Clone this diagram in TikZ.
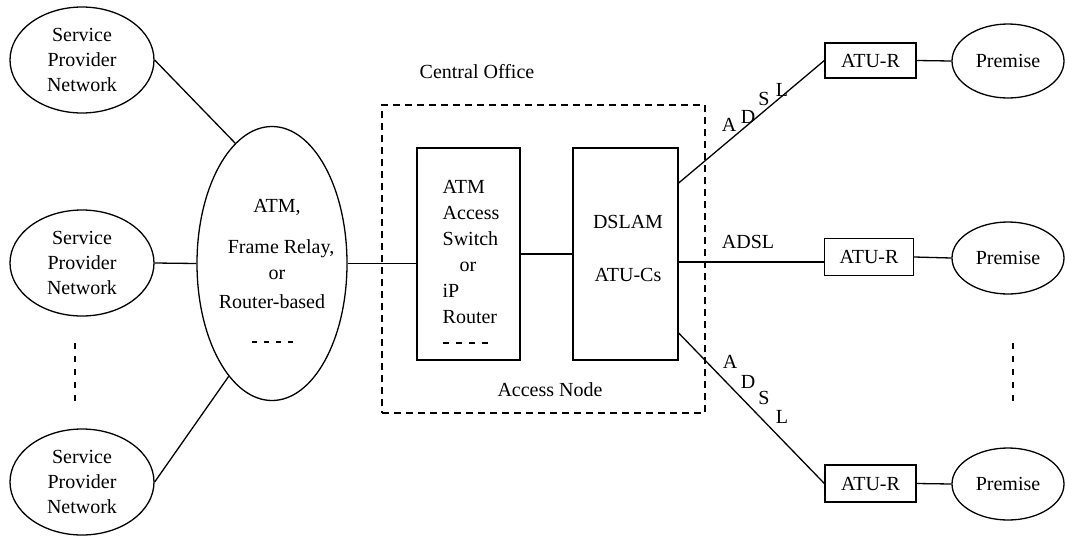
\documentclass[tikz,border=0pt]{standalone}
\usepackage{fontspec}
\setmainfont{Liberation Serif}
\usetikzlibrary{shapes.geometric}
\begin{document}
\begin{tikzpicture}[x=1pt,y=-1pt,
  every node/.style={inner sep=0pt, font=\fontsize{20}{25}\selectfont},
  wire/.style={line width=1.3pt},
  netoval/.style={ellipse, draw, line width=1.3pt, align=center},
  unitbox/.style={rectangle, draw, line width=1.3pt},
  dashline/.style={line width=1.1pt, dash pattern=on 6pt off 7pt},
  officebox/.style={rectangle, draw, line width=1.1pt, dash pattern=on 7pt off 5pt}
]
\useasboundingbox (0,0) rectangle (1065,536);

% service provider networks
\node[netoval, minimum width=144pt, minimum height=106pt] (spn1) at (82,60) {Service\\Provider\\Network};
\node[netoval, minimum width=144pt, minimum height=106pt] (spn2) at (82,263) {Service\\Provider\\Network};
\node[netoval, minimum width=144pt, minimum height=106pt] (spn3) at (82,482) {Service\\Provider\\Network};
\draw[dashline] (75,343) -- (75,405);

% backbone network
\node[netoval, minimum width=150pt, minimum height=274pt] (atm) at (272,263.5) {};
\node (atmt1) at (277,207) {ATM,};
\node (atmt2) at (281,249) {Frame Relay,};
\node (atmt3) at (277,275) {or};
\node (atmt4) at (272,302) {Router-based};
\draw[line width=1.1pt, dash pattern=on 5pt off 7pt] (252,342) -- (297,342);

% central office
\node[officebox, minimum width=323pt, minimum height=308pt] (co) at (543.5,259) {};
\node (colabel) at (477,72) {Central Office};
\node (anlabel) at (550,390) {Access Node};

\node[unitbox, minimum width=103pt, minimum height=212pt] (sw) at (468.5,254) {};
\node[align=left, font=\fontsize{20}{26}\selectfont] (swtext) at (471,252)
  {ATM\\Access\\Switch\\\hspace*{17pt}or\\iP\\Router};
\draw[dashline] (443,343) -- (490,343);

\node[unitbox, minimum width=105pt, minimum height=212pt] (dslam) at (625.5,254) {};
\node (dslamt1) at (628,222) {DSLAM};
\node (dslamt2) at (628,275) {ATU-Cs};

% remote units and premises
\node[unitbox, minimum width=91pt, minimum height=35pt] (atur1) at (870.5,60.5) {ATU-R};
\node[unitbox, minimum width=89pt, minimum height=37pt] (atur2) at (869,257) {ATU-R};
\node[unitbox, minimum width=91pt, minimum height=37pt] (atur3) at (870.5,483.5) {ATU-R};
\node[netoval, minimum width=112pt, minimum height=74pt] (prem1) at (1008,61) {Premise};
\node[netoval, minimum width=112pt, minimum height=72pt] (prem2) at (1008,258) {Premise};
\node[netoval, minimum width=112pt, minimum height=72pt] (prem3) at (1008,484) {Premise};
\draw[dashline] (1013,343) -- (1013,405);

% connections
\draw[wire] (spn1.east) -- (atm.107);
\draw[wire] (spn2.east) -- (atm.west);
\draw[wire] (spn3.east) -- (atm.249);
\draw[wire] (atm.east) -- (atm.east -| sw.west);
\draw[wire] (sw.east) -- (dslam.west);
\draw[wire] ([yshift=71pt]dslam.east) -- (atur1.west);
\draw[wire] ([yshift=-8pt]dslam.east) -- ([yshift=-8pt]dslam.east -| atur2.west);
\draw[wire] ([yshift=-79pt]dslam.east) -- (atur3.west);
\draw[wire] (atur1.east) -- (prem1.west);
\draw[wire] (atur2.east) -- (prem2.west);
\draw[wire] (atur3.east) -- (prem3.west);

% line labels
\node (la1) at (729,125) {A};
\node (ld1) at (748,117) {D};
\node (ls1) at (764,99) {S};
\node (ll1) at (782,90) {L};
\node (adsl2) at (748,242) {ADSL};
\node (la3) at (730,362) {A};
\node (ld3) at (748,382) {D};
\node (ls3) at (764,398) {S};
\node (ll3) at (782,417) {L};
\end{tikzpicture}
\end{document}
